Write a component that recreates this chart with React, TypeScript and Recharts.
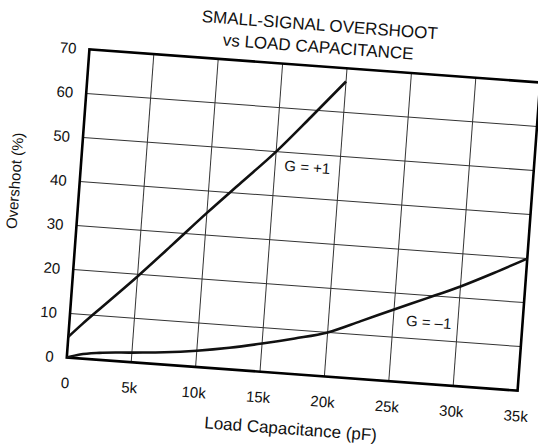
import { LineChart, Line, XAxis, YAxis, CartesianGrid, ReferenceArea, ReferenceDot } from 'recharts';

const capTicks = [0, 5000, 10000, 15000, 20000, 25000, 30000, 35000];
const overshootTicks = [0, 10, 20, 30, 40, 50, 60, 70];

// G = +1
const plusCap = [0, 1000, 2500, 5000, 7500, 10000, 12500, 15000, 17500, 20000];
const plusOvershoot = [4.7, 7.8, 12.2, 19.5, 27.2, 35, 42.5, 50, 58.4, 67];

// G = -1
const minusCap = [0, 1000, 2500, 5000, 7500, 10000, 12500, 15000, 17500, 20000, 22500, 25000, 27500, 30000, 32500, 35000];
const minusOvershoot = [0, 0.9, 1.6, 2.2, 2.8, 3.7, 4.9, 6.4, 8.1, 10, 13.1, 16.3, 19.4, 22.6, 26.2, 30];

const plusData = plusCap.map((x, i) => ({ x, y: plusOvershoot[i] }));
const minusData = minusCap.map((x, i) => ({ x, y: minusOvershoot[i] }));

const font = '"Liberation Sans", Arial, Helvetica, sans-serif';
const ink = '#111';

const fmtCap = (v: number) => (v === 0 ? '0' : `${v / 1000}k`);

export default function App() {
  return (
    <div
      style={{
        position: 'absolute',
        left: 0,
        top: 0,
        width: 560,
        height: 447,
        fontFamily: font,
        color: ink,
        transform: 'rotate(4.2deg)',
        transformOrigin: '303.5px 220px',
      }}
    >
      <div style={{ position: 'absolute', left: 305.5, top: 15, transform: 'translateX(-50%)', whiteSpace: 'nowrap', fontSize: 17, lineHeight: '20px' }}>
        SMALL-SIGNAL OVERSHOOT
      </div>
      <div style={{ position: 'absolute', left: 305.5, top: 37, transform: 'translateX(-50%)', whiteSpace: 'nowrap', fontSize: 17, lineHeight: '20px' }}>
        vs LOAD CAPACITANCE
      </div>
      <div
        style={{
          position: 'absolute',
          left: 13,
          top: 202,
          transform: 'translate(-50%, -50%) rotate(-90deg)',
          whiteSpace: 'nowrap',
          fontSize: 15,
          lineHeight: '18px',
        }}
      >
        Overshoot (%)
      </div>
      <div style={{ position: 'absolute', left: 306, top: 430, transform: 'translate(-50%, -50%)', whiteSpace: 'nowrap', fontSize: 17, lineHeight: '20px' }}>
        Load Capacitance (pF)
      </div>

      <LineChart width={560} height={447} margin={{ top: 65.5, right: 30.5, bottom: 42.5, left: 17.5 }}>
        <CartesianGrid stroke="#333" strokeWidth={1} />
        <XAxis
          type="number"
          dataKey="x"
          domain={[0, 35000]}
          ticks={capTicks}
          interval={0}
          tickFormatter={fmtCap}
          axisLine={false}
          tickLine={false}
          tickSize={0}
          tickMargin={20}
          height={30}
          tick={{ fill: ink, fontSize: 15, fontFamily: font }}
        />
        <YAxis
          type="number"
          domain={[0, 70]}
          ticks={overshootTicks}
          interval={0}
          axisLine={false}
          tickLine={false}
          tickSize={0}
          tickMargin={13}
          width={60}
          tick={{ fill: ink, fontSize: 15, fontFamily: font }}
        />
        <Line data={plusData} dataKey="y" type="monotone" stroke={ink} strokeWidth={2.6} dot={false} isAnimationActive={false} />
        <Line data={minusData} dataKey="y" type="monotone" stroke={ink} strokeWidth={2.6} dot={false} isAnimationActive={false} />
        <ReferenceArea x1={0} x2={35000} y1={0} y2={70} fill="none" stroke="#000" strokeWidth={2.6} />
        <ReferenceDot
          x={17500}
          y={47}
          r={0}
          fill="none"
          stroke="none"
          label={{ value: 'G = +1', position: 'center', fill: ink, fontSize: 15, fontFamily: font }}
        />
        <ReferenceDot
          x={27750}
          y={14}
          r={0}
          fill="none"
          stroke="none"
          label={{ value: 'G = –1', position: 'center', fill: ink, fontSize: 15, fontFamily: font }}
        />
      </LineChart>
    </div>
  );
}
